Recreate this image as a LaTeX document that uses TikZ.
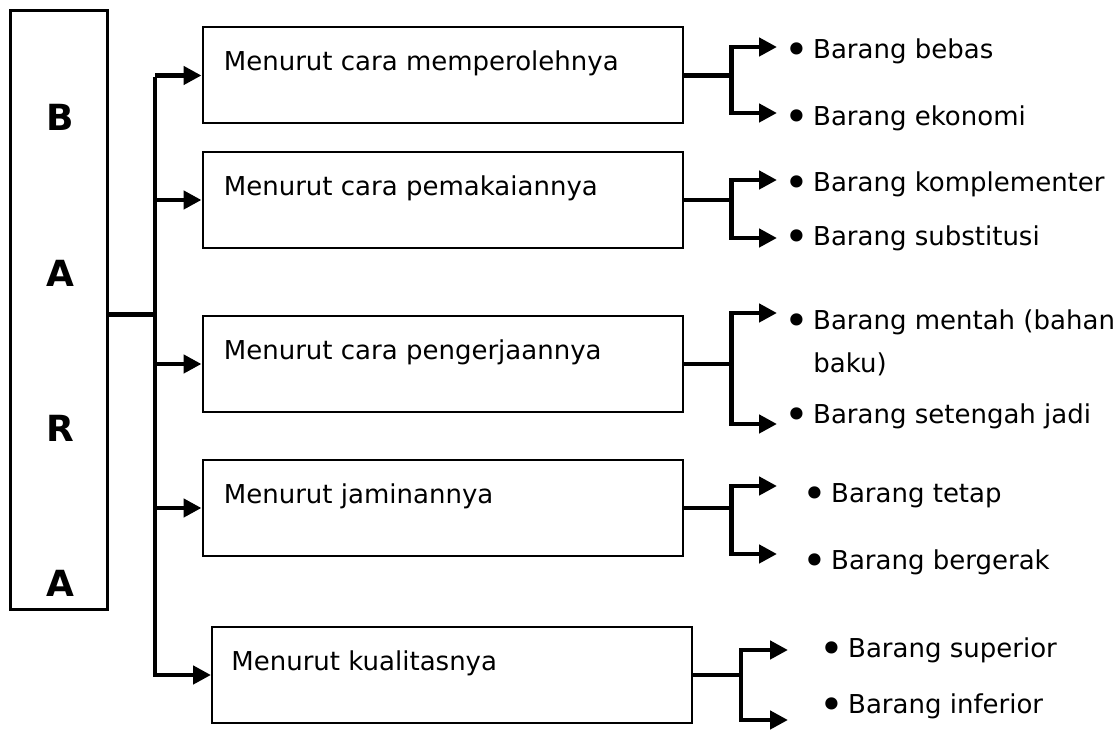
\documentclass[tikz,border=0pt]{standalone}
\usepackage{fontspec}
\setmainfont{DejaVu Sans}
\usetikzlibrary{arrows.meta,positioning}

\newcommand{\titik}{{\fontsize{21}{21}\selectfont\raisebox{-3pt}{\textbullet}}\hspace{2pt}}

\tikzset{
  katbox/.style={draw,line width=1pt,minimum width=240pt,minimum height=48pt,inner sep=0pt},
  kattext/.style={inner sep=0pt,font=\fontsize{13}{15}\selectfont},
  barang/.style={inner sep=0pt,anchor=base west,font=\fontsize{13}{15}\selectfont},
  huruf/.style={inner sep=0pt,font=\fontsize{18}{20}\selectfont\bfseries},
  conn/.style={line width=2.4pt},
}

\begin{document}
\begin{tikzpicture}[x=0.5pt,y=-0.5pt,>={Triangle[length=9pt,width=9pt]}]
  \useasboundingbox (0,0) rectangle (1120,731);
  \node[draw,line width=1.5pt,minimum width=48.5pt,minimum height=299.5pt,inner sep=0pt] (bara) at (58.5,310.5) {};
  \node[huruf] (h1) at (60,117) {B};
  \node[huruf] (h2) at (60,273) {A};
  \node[huruf] (h3) at (60,428) {R};
  \node[huruf] (h4) at (60,583) {A};

  \node[katbox] (k1) at (442.5,75.5) {};
  \node[katbox] (k2) at (442.5,200) {};
  \node[katbox] (k3) at (442.5,364) {};
  \node[katbox] (k4) at (442.5,508) {};
  \node[katbox] (k5) at (452,675) {};
  \node[kattext,right=11pt of k1.west,yshift=6pt] (t1) {Menurut cara memperolehnya};
  \node[kattext,right=11pt of k2.west,yshift=6pt] (t2) {Menurut cara pemakaiannya};
  \node[kattext,right=11pt of k3.west,yshift=6pt] (t3) {Menurut cara pengerjaannya};
  \node[kattext,right=11pt of k4.west,yshift=6pt] (t4) {Menurut jaminannya};
  \node[kattext,right=10pt of k5.west,yshift=6pt] (t5) {Menurut kualitasnya};

  \coordinate (trtop) at (155,77);
  \coordinate (trbot) at (155,677);
  \draw[conn] ([yshift=-2pt]bara.east) -- ([yshift=-2pt]bara.east -| trtop);
  \draw[conn] (trtop) -- (trbot);
  \foreach \k in {1,...,5}
    \draw[conn,->] (k\k.west -| trtop) -- (k\k.west);

  \foreach \k/\tx/\ya/\yb in {1/777/47/113, 2/777/180/238, 3/777/313/424, 4/777/486/554, 5/788/650/720} {
    \draw[conn] (k\k.east) -- ++(24pt,0) coordinate (j\k);
    \coordinate (p\k a) at (\tx,\ya);
    \coordinate (p\k b) at (\tx,\yb);
    \draw[conn,<->] (p\k a) -| (j\k) |- (p\k b);
  }

  \node[barang] (b1a) at (784,59) {\titik Barang bebas};
  \node[barang] (b1b) at (784,126) {\titik Barang ekonomi};
  \node[barang] (b2a) at (784,192) {\titik Barang komplementer};
  \node[barang] (b2b) at (784,246) {\titik Barang substitusi};
  \node[barang] (b3a) at (784,330) {\titik Barang mentah (bahan};
  \node[barang] (b3x) at (813,373) {baku)};
  \node[barang] (b3b) at (784,424) {\titik Barang setengah jadi};
  \node[barang] (b4a) at (802,503) {\titik Barang tetap};
  \node[barang] (b4b) at (802,570) {\titik Barang bergerak};
  \node[barang] (b5a) at (819,658) {\titik Barang superior};
  \node[barang] (b5b) at (819,714) {\titik Barang inferior};
\end{tikzpicture}
\end{document}
